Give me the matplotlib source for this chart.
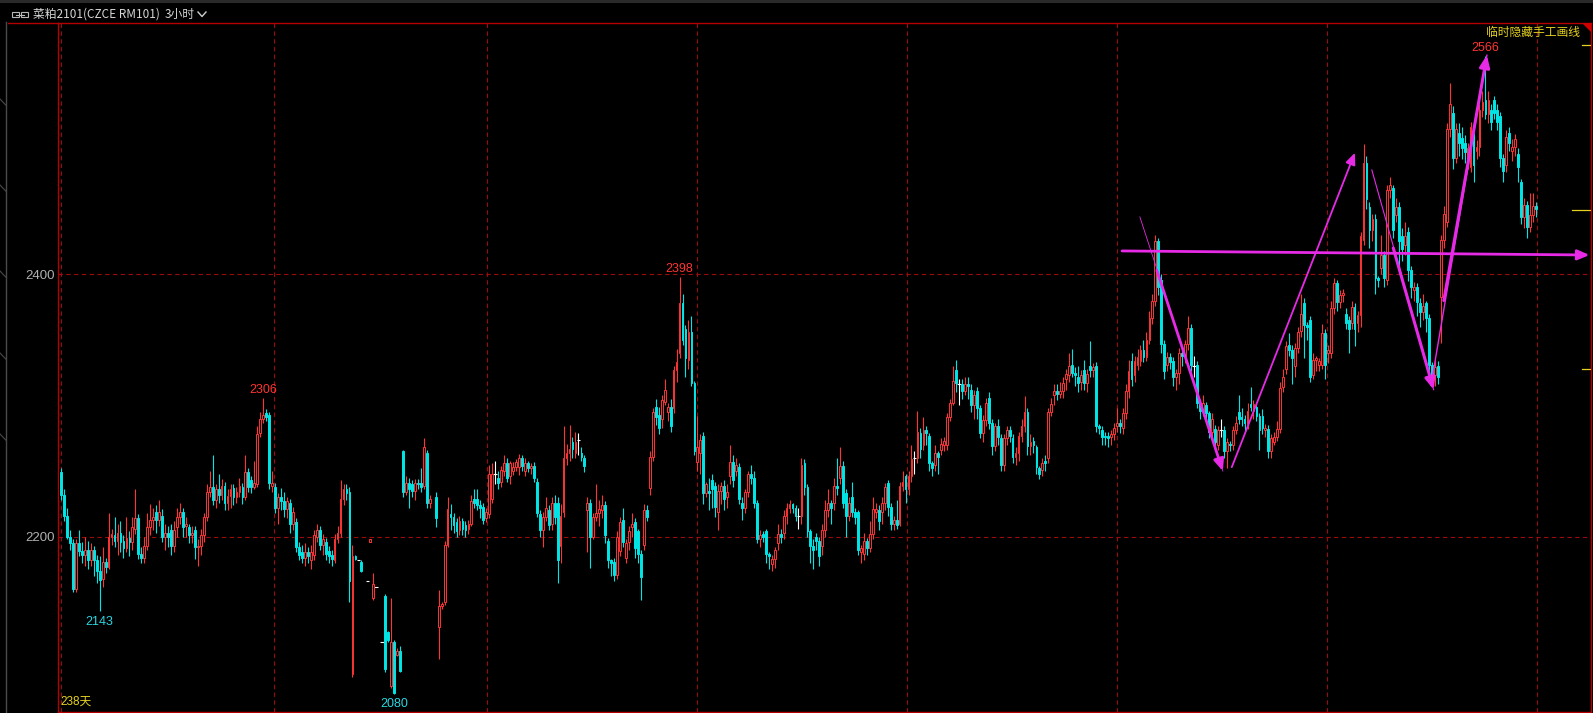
import numpy as np
import matplotlib
matplotlib.use('Agg')
import matplotlib.pyplot as plt
import matplotlib.transforms as mtransforms
from matplotlib.lines import Line2D
from matplotlib.patches import Polygon, Rectangle

plt.rcParams['font.family'] = ['Noto Sans CJK SC', 'DejaVu Sans']

_ = None  # gap in the bar series

title_name = '菜粕2101(CZCE RM101)'
title_period = '3小时'
days_label = '238天'
hide_label = '临时隐藏手工画线'
y_ticks = [2200, 2400]
hi_marks = [2306, 2398, 2566]
lo_marks = [2143, 2080]
right_marks = [2575, 2449, 2328]

opens = [
    2249, 2232, 2216, 2200, 2195, 2160, 2195, 2189, 2186, 2190,
    2182, 2190, 2182, 2174, 2168, 2181, 2177, 2200, 2201, 2197,
    2203, 2197, 2191, 2199, 2196, 2206, 2214, 2187, 2184, 2193,
    2207, 2213, 2219, 2213, 2216, 2200, 2203, 2205, 2193, 2207,
    2215, 2219, 2208, 2207, 2201, 2205, 2192, 2193, 2201, 2215,
    2234, 2238, 2228, 2236, 2232, 2239, 2226, 2231, 2237, 2230,
    2234, 2238, 2230, 2249, 2243, 2238, 2240, 2279, 2290, 2294,
    2293, 2239, 2238, 2222, 2230, 2227, 2221, 2226, 2210, 2211,
    2192, 2188, 2184, 2188, 2182, 2186, 2200, 2205, 2194, 2196,
    2189, 2186, 2182, 2198, 2203, 2229, 2236, 2234, 2095, 2185,
    2182, 2181, _, 2166, 2196, 2153, 2162, _, 2120, 2155,
    2127, 2086, 2120, 2110, 2113, 2265, 2234, 2241, 2240, 2235,
    2241, 2241, 2239, 2264, 2226, _, 2230, 2131, 2147, 2150,
    2194, 2217, 2215, 2211, 2205, 2212, 2209, 2206, 2210, 2229,
    2229, 2224, 2223, 2214, 2217, 2229, 2248, 2245, 2242, 2250,
    2256, 2246, 2250, 2253, 2253, 2260, 2250, 2256, 2252, 2254,
    2242, 2217, 2205, 2215, 2220, 2210, 2226, 2226, 2193, 2219,
    2260, 2264, 2272, 2264, 2274, 2264, 2260, 2220, 2226, 2200,
    2215, 2218, 2220, 2224, 2197, 2182, 2181, 2171, 2189, 2213,
    2184, 2196, 2207, 2211, 2204, 2187, 2194, 2220, 2237, 2261,
    2299, 2293, 2290, 2303, 2295, 2299, 2298, 2327, 2340, 2378,
    2358, 2335, 2356, 2317, 2257, 2264, 2277, 2233, 2235, 2243,
    2239, 2219, 2235, 2239, 2230, 2246, 2257, 2250, 2253, 2226,
    2222, 2234, 2248, 2245, 2226, 2198, 2202, 2204, 2187, 2179,
    2183, 2195, 2202, 2203, 2216, 2222, 2225, 2222, 2216, 2216,
    2256, 2238, 2204, 2193, 2200, 2197, 2193, 2205, 2220, 2226,
    2226, 2239, 2245, 2254, 2233, 2216, 2230, 2219, 2219, 2188,
    2187, 2197, 2191, 2202, 2219, 2220, 2219, 2226, 2241, 2223,
    2210, 2213, 2210, 2239, 2246, 2236, 2246, 2260, 2260, 2279,
    2270, 2281, 2277, 2256, 2255, 2264, 2266, 2270, 2270, 2291,
    2302, 2327, 2316, 2316, 2311, 2316, 2312, 2300, 2311, 2298,
    2279, 2289, 2306, 2287, 2269, 2284, 2275, 2255, 2275, 2281,
    2275, 2261, 2264, 2277, 2284, 2295, 2269, 2273, 2268, 2252,
    2251, 2258, 2260, 2295, 2308, 2311, 2309, 2311, 2320, 2323,
    2331, 2325, 2322, 2318, 2327, 2317, 2330, 2327, 2330, 2284,
    2281, 2277, 2277, 2276, 2278, 2284, 2287, 2283, 2294, 2311,
    2334, 2323, 2331, 2334, 2342, 2337, 2350, 2367, 2380, 2425,
    2396, 2347, 2331, 2337, 2334, 2322, 2325, 2340, 2338, 2347,
    2359, 2330, 2331, 2302, 2296, 2300, 2294, 2280, 2282, 2270,
    2281, 2281, 2265, 2271, 2270, 2281, 2295, 2291, 2290, 2286,
    2301, 2296, 2299, 2292, 2292, 2281, 2282, 2265, 2272, 2276,
    2282, 2314, 2328, 2346, 2342, 2330, 2344, 2357, 2378, 2361,
    2365, 2323, 2335, 2331, 2331, 2355, 2340, 2340, 2374, 2393,
    2379, 2384, 2370, 2365, 2363, 2375, 2363, 2369, 2426, 2485,
    2451, 2434, 2442, 2397, 2405, 2415, 2396, 2464, 2466, 2445,
    2451, 2429, 2422, 2432, 2403, 2388, 2390, 2378, 2371, 2378,
    2367, 2331, 2323, 2330, 2383, 2426, 2440, 2511, 2523, 2489,
    2508, 2504, 2500, 2488, 2482, 2505, 2494, 2497, 2525, 2533,
    2522, 2525, 2533, 2525, 2521, 2489, 2483, 2508, 2494, 2497,
    2492, 2470, 2444, 2453, 2436, 2445, 2452,
]

closes = [
    2232, 2216, 2200, 2195, 2160, 2195, 2189, 2186, 2190, 2182,
    2190, 2182, 2174, 2167, 2181, 2177, 2200, 2202, 2197, 2203,
    2196, 2191, 2199, 2196, 2207, 2214, 2187, 2184, 2193, 2207,
    2213, 2215, 2213, 2219, 2200, 2203, 2200, 2193, 2205, 2215,
    2219, 2207, 2210, 2201, 2203, 2192, 2193, 2201, 2215, 2234,
    2238, 2228, 2236, 2232, 2239, 2226, 2231, 2236, 2230, 2234,
    2239, 2230, 2249, 2238, 2238, 2241, 2278, 2290, 2293, 2291,
    2241, 2241, 2222, 2230, 2227, 2221, 2227, 2210, 2219, 2192,
    2186, 2184, 2188, 2185, 2188, 2201, 2205, 2194, 2198, 2187,
    2185, 2183, 2198, 2203, 2229, 2236, 2233, 2166, 2185, 2183,
    2182, 2174, _, 2166, 2198, 2164, 2162, _, 2120, 2099,
    2121, 2120, 2081, 2113, 2098, 2234, 2241, 2236, 2235, 2241,
    2240, 2238, 2268, 2226, 2229, _, 2214, 2147, 2149, 2194,
    2221, 2215, 2209, 2204, 2212, 2206, 2205, 2210, 2227, 2226,
    2224, 2222, 2213, 2219, 2248, 2248, 2248, 2241, 2251, 2256,
    2245, 2256, 2253, 2257, 2260, 2254, 2256, 2252, 2254, 2245,
    2218, 2205, 2215, 2222, 2209, 2226, 2215, 2182, 2216, 2260,
    2264, 2267, 2267, 2272, 2274, 2261, 2254, 2226, 2200, 2215,
    2218, 2221, 2224, 2201, 2182, 2180, 2171, 2200, 2211, 2196,
    2195, 2204, 2210, 2191, 2187, 2169, 2220, 2215, 2261, 2295,
    2291, 2283, 2304, 2312, 2299, 2284, 2327, 2333, 2378, 2350,
    2336, 2356, 2317, 2265, 2268, 2274, 2233, 2240, 2233, 2236,
    2223, 2235, 2239, 2229, 2234, 2257, 2243, 2255, 2229, 2222,
    2234, 2248, 2245, 2226, 2198, 2201, 2200, 2187, 2185, 2183,
    2190, 2202, 2200, 2216, 2222, 2225, 2222, 2216, 2216, 2255,
    2238, 2204, 2193, 2190, 2197, 2185, 2205, 2220, 2226, 2222,
    2239, 2237, 2254, 2226, 2216, 2226, 2219, 2215, 2190, 2191,
    2197, 2191, 2202, 2221, 2221, 2212, 2226, 2238, 2223, 2210,
    2213, 2209, 2239, 2242, 2236, 2246, 2259, 2260, 2280, 2267,
    2281, 2279, 2256, 2252, 2264, 2261, 2271, 2273, 2291, 2302,
    2319, 2317, 2316, 2311, 2316, 2315, 2300, 2308, 2298, 2279,
    2289, 2302, 2287, 2269, 2284, 2276, 2255, 2275, 2281, 2277,
    2261, 2264, 2277, 2284, 2295, 2269, 2272, 2270, 2253, 2248,
    2256, 2256, 2295, 2301, 2311, 2309, 2311, 2317, 2324, 2330,
    2325, 2323, 2317, 2323, 2317, 2324, 2327, 2329, 2284, 2283,
    2276, 2276, 2275, 2278, 2283, 2287, 2284, 2294, 2311, 2326,
    2320, 2334, 2337, 2342, 2337, 2350, 2367, 2380, 2425, 2390,
    2347, 2326, 2337, 2333, 2322, 2325, 2340, 2338, 2347, 2359,
    2331, 2330, 2302, 2296, 2302, 2294, 2280, 2290, 2272, 2281,
    2281, 2265, 2272, 2270, 2281, 2287, 2290, 2290, 2287, 2296,
    2299, 2301, 2292, 2281, 2283, 2283, 2265, 2275, 2276, 2282,
    2313, 2322, 2345, 2342, 2336, 2344, 2356, 2370, 2361, 2360,
    2322, 2335, 2336, 2334, 2355, 2331, 2342, 2374, 2393, 2379,
    2384, 2386, 2363, 2358, 2375, 2358, 2369, 2429, 2485, 2457,
    2434, 2442, 2397, 2396, 2415, 2397, 2464, 2468, 2434, 2451,
    2425, 2419, 2429, 2403, 2390, 2390, 2379, 2371, 2376, 2367,
    2331, 2323, 2329, 2322, 2426, 2446, 2511, 2530, 2489, 2511,
    2500, 2496, 2493, 2496, 2512, 2483, 2497, 2525, 2531, 2522,
    2533, 2516, 2523, 2516, 2489, 2479, 2505, 2500, 2497, 2503,
    2482, 2444, 2453, 2436, 2445, 2452, 2450,
]

highs = [
    2252, 2236, 2222, 2205, 2198, 2198, 2205, 2196, 2200, 2197,
    2195, 2193, 2186, 2185, 2192, 2184, 2218, 2206, 2215, 2210,
    2212, 2201, 2215, 2204, 2215, 2236, 2217, 2192, 2200, 2218,
    2225, 2222, 2224, 2228, 2221, 2210, 2208, 2210, 2212, 2222,
    2226, 2222, 2215, 2210, 2208, 2208, 2198, 2206, 2218, 2240,
    2250, 2262, 2240, 2248, 2244, 2242, 2236, 2240, 2240, 2238,
    2245, 2241, 2262, 2252, 2246, 2258, 2284, 2295, 2306, 2297,
    2295, 2250, 2241, 2233, 2237, 2234, 2230, 2229, 2223, 2214,
    2196, 2194, 2195, 2192, 2194, 2205, 2210, 2208, 2202, 2199,
    2193, 2190, 2202, 2208, 2243, 2240, 2240, 2238, 2194, 2186,
    2182, 2182, _, 2166, 2198, 2172, 2162, _, 2120, 2156,
    2128, 2153, 2121, 2115, 2117, 2266, 2246, 2245, 2243, 2244,
    2244, 2252, 2275, 2266, 2232, _, 2234, 2159, 2150, 2197,
    2230, 2225, 2218, 2214, 2216, 2214, 2212, 2213, 2232, 2236,
    2236, 2228, 2226, 2222, 2255, 2256, 2258, 2250, 2254, 2262,
    2260, 2258, 2257, 2259, 2263, 2262, 2260, 2258, 2256, 2257,
    2245, 2220, 2219, 2230, 2224, 2230, 2232, 2230, 2225, 2284,
    2271, 2285, 2276, 2280, 2279, 2268, 2262, 2230, 2229, 2218,
    2240, 2228, 2232, 2227, 2199, 2183, 2184, 2204, 2215, 2222,
    2198, 2208, 2218, 2214, 2206, 2190, 2225, 2224, 2265, 2298,
    2305, 2299, 2308, 2320, 2302, 2305, 2330, 2343, 2398, 2385,
    2361, 2365, 2368, 2319, 2292, 2278, 2280, 2242, 2245, 2248,
    2242, 2240, 2242, 2243, 2240, 2270, 2262, 2260, 2256, 2230,
    2236, 2250, 2255, 2250, 2228, 2205, 2204, 2206, 2188, 2186,
    2192, 2210, 2206, 2220, 2226, 2228, 2226, 2224, 2222, 2260,
    2259, 2240, 2206, 2198, 2203, 2200, 2210, 2228, 2236, 2228,
    2245, 2260, 2268, 2258, 2236, 2230, 2242, 2222, 2220, 2194,
    2203, 2199, 2212, 2230, 2226, 2224, 2230, 2241, 2243, 2226,
    2216, 2228, 2242, 2250, 2248, 2250, 2270, 2265, 2296, 2283,
    2291, 2284, 2279, 2258, 2270, 2265, 2275, 2276, 2294, 2305,
    2330, 2335, 2320, 2320, 2322, 2322, 2316, 2312, 2314, 2300,
    2293, 2306, 2310, 2290, 2287, 2290, 2278, 2278, 2284, 2284,
    2278, 2268, 2280, 2290, 2307, 2298, 2278, 2276, 2270, 2254,
    2260, 2262, 2298, 2306, 2316, 2316, 2318, 2322, 2328, 2340,
    2343, 2329, 2330, 2327, 2335, 2328, 2349, 2332, 2333, 2286,
    2284, 2280, 2280, 2281, 2287, 2298, 2290, 2298, 2316, 2335,
    2340, 2338, 2343, 2346, 2350, 2356, 2372, 2385, 2430, 2428,
    2400, 2350, 2341, 2340, 2337, 2328, 2344, 2342, 2350, 2368,
    2362, 2338, 2334, 2305, 2308, 2303, 2296, 2294, 2285, 2284,
    2290, 2284, 2275, 2273, 2284, 2292, 2308, 2298, 2293, 2302,
    2314, 2304, 2302, 2294, 2297, 2286, 2285, 2278, 2280, 2288,
    2318, 2328, 2349, 2355, 2346, 2348, 2360, 2385, 2382, 2364,
    2368, 2340, 2338, 2336, 2362, 2358, 2346, 2380, 2397, 2396,
    2388, 2389, 2374, 2368, 2380, 2378, 2372, 2432, 2499, 2490,
    2455, 2446, 2446, 2399, 2430, 2418, 2468, 2474, 2468, 2458,
    2455, 2435, 2440, 2436, 2406, 2394, 2393, 2382, 2385, 2380,
    2370, 2333, 2335, 2334, 2430, 2452, 2515, 2546, 2528, 2515,
    2515, 2512, 2506, 2500, 2516, 2508, 2502, 2530, 2540, 2566,
    2540, 2530, 2536, 2530, 2524, 2492, 2510, 2512, 2503, 2507,
    2496, 2473, 2458, 2456, 2462, 2462, 2455,
]

lows = [
    2228, 2212, 2198, 2190, 2158, 2158, 2185, 2180, 2178, 2175,
    2178, 2170, 2165, 2143, 2162, 2172, 2175, 2194, 2192, 2186,
    2188, 2184, 2188, 2185, 2190, 2202, 2183, 2180, 2180, 2190,
    2201, 2205, 2203, 2208, 2196, 2190, 2192, 2186, 2188, 2200,
    2210, 2200, 2200, 2195, 2195, 2183, 2178, 2186, 2196, 2212,
    2230, 2224, 2222, 2226, 2228, 2220, 2220, 2222, 2224, 2226,
    2230, 2225, 2228, 2234, 2233, 2236, 2238, 2276, 2287, 2288,
    2236, 2234, 2218, 2210, 2220, 2215, 2214, 2203, 2205, 2188,
    2182, 2180, 2178, 2180, 2175, 2182, 2196, 2190, 2186, 2182,
    2180, 2178, 2180, 2195, 2200, 2224, 2228, 2150, 2093, 2182,
    2182, 2173, _, 2166, 2196, 2152, 2162, _, 2120, 2097,
    2120, 2085, 2080, 2109, 2097, 2230, 2232, 2222, 2230, 2228,
    2236, 2234, 2236, 2222, 2222, _, 2207, 2107, 2145, 2148,
    2192, 2205, 2203, 2200, 2201, 2201, 2200, 2202, 2208, 2222,
    2220, 2214, 2210, 2211, 2214, 2226, 2240, 2236, 2238, 2246,
    2242, 2240, 2247, 2250, 2247, 2250, 2246, 2249, 2248, 2242,
    2215, 2200, 2192, 2212, 2205, 2205, 2210, 2165, 2180, 2215,
    2255, 2258, 2260, 2260, 2262, 2258, 2249, 2188, 2176, 2198,
    2212, 2208, 2214, 2195, 2176, 2170, 2166, 2168, 2185, 2192,
    2180, 2190, 2200, 2184, 2180, 2152, 2190, 2212, 2232, 2258,
    2285, 2278, 2283, 2300, 2288, 2280, 2294, 2318, 2336, 2346,
    2322, 2328, 2315, 2262, 2250, 2248, 2225, 2230, 2220, 2222,
    2215, 2205, 2225, 2220, 2222, 2240, 2238, 2246, 2225, 2213,
    2218, 2230, 2240, 2222, 2195, 2192, 2196, 2180, 2175, 2174,
    2176, 2190, 2195, 2198, 2210, 2218, 2218, 2212, 2206, 2210,
    2232, 2200, 2180, 2175, 2190, 2178, 2186, 2200, 2215, 2210,
    2220, 2232, 2240, 2222, 2200, 2212, 2215, 2210, 2186, 2180,
    2182, 2186, 2188, 2198, 2214, 2205, 2210, 2220, 2216, 2205,
    2205, 2206, 2208, 2235, 2226, 2232, 2242, 2248, 2256, 2260,
    2266, 2270, 2250, 2246, 2250, 2248, 2262, 2265, 2266, 2288,
    2300, 2310, 2300, 2305, 2308, 2305, 2295, 2290, 2290, 2275,
    2272, 2284, 2282, 2262, 2265, 2270, 2250, 2250, 2270, 2272,
    2256, 2255, 2258, 2272, 2280, 2262, 2262, 2264, 2248, 2244,
    2246, 2250, 2256, 2292, 2300, 2304, 2306, 2306, 2312, 2318,
    2322, 2315, 2310, 2312, 2312, 2310, 2322, 2322, 2280, 2278,
    2270, 2270, 2268, 2270, 2274, 2280, 2279, 2278, 2290, 2306,
    2315, 2318, 2327, 2330, 2333, 2334, 2347, 2362, 2376, 2384,
    2340, 2320, 2326, 2328, 2315, 2312, 2316, 2330, 2332, 2342,
    2326, 2322, 2298, 2290, 2292, 2288, 2275, 2276, 2265, 2266,
    2276, 2260, 2252, 2265, 2266, 2278, 2286, 2284, 2280, 2282,
    2296, 2290, 2288, 2266, 2278, 2276, 2260, 2260, 2270, 2273,
    2279, 2310, 2324, 2338, 2316, 2322, 2340, 2352, 2336, 2350,
    2318, 2320, 2326, 2326, 2328, 2320, 2332, 2336, 2370, 2372,
    2374, 2379, 2358, 2340, 2358, 2345, 2356, 2360, 2422, 2450,
    2420, 2425, 2385, 2390, 2400, 2390, 2392, 2458, 2428, 2440,
    2400, 2410, 2415, 2395, 2382, 2380, 2368, 2360, 2365, 2356,
    2325, 2318, 2315, 2316, 2348, 2420, 2436, 2505, 2480, 2485,
    2490, 2488, 2485, 2480, 2478, 2470, 2488, 2490, 2520, 2518,
    2515, 2510, 2518, 2510, 2482, 2470, 2478, 2494, 2486, 2490,
    2470, 2438, 2435, 2428, 2432, 2440, 2444,
]

# hand-drawn magenta lines: (bar0, price0, bar1, price1, width, arrow head)
hand_lines = [
    (362.8, 2443.7, 390.7, 2250.0, 0.6, False),
    (368.5, 2403.0, 390.7, 2250.0, 2.0, True),
    (393.7, 2253.0, 435.1, 2492.6, 1.3, True),
    (356.8, 2417.8, 514.0, 2414.7, 2.0, True),
    (440.8, 2479.5, 461.6, 2312.0, 0.8, False),
    (448.0, 2420.0, 461.6, 2312.0, 2.2, True),
    (460.7, 2315.5, 479.5, 2567.0, 1.0, False),
    (465.0, 2380.0, 479.5, 2567.0, 2.2, True),
]
vgrid = [0.1, 71.7, 143.3, 213.9, 284.5, 355.2, 425.8, 496.4]

RED = '#ff3434'
CYAN = '#00e6e6'
FRAME = '#b40000'
GRID = '#9a0c0c'
MAG = '#e62ae6'
YEL = '#e6d21e'
W, H = 1593, 713

o = np.array(opens, dtype=float)
c = np.array(closes, dtype=float)
h = np.array(highs, dtype=float)
l = np.array(lows, dtype=float)
x = np.arange(len(o))

fig = plt.figure(figsize=(W / 100, H / 100), dpi=100, facecolor='black')
ax = fig.add_axes([58.3 / W, 1.3 / H, (1591 - 58.3) / W, (711.7 - 23.3) / H])
ax.set_facecolor('black')
ax.set_xlim(-0.91, 514.5)
ax.set_ylim(2066.6, 2591.3)

for y in y_ticks:
    ax.axhline(y, color=GRID, lw=0.8, ls=(0, (4, 3)), zorder=0)
for g in vgrid:
    ax.axvline(g, color=GRID, lw=0.8, ls=(0, (4, 3)), zorder=0)

up = c > o
dn = c < o
fl = c == o
bw = 0.6

# wicks
ax.vlines(x[up], c[up], h[up], color=RED, lw=0.8, zorder=2)
ax.vlines(x[up], l[up], o[up], color=RED, lw=0.8, zorder=2)
ax.vlines(x[dn], l[dn], h[dn], color=CYAN, lw=0.8, zorder=2)
ax.vlines(x[fl], l[fl], h[fl], color='white', lw=0.8, zorder=2)
ax.hlines(o[fl], x[fl] - 0.6, x[fl] + 0.6, color='white', lw=0.8, zorder=2)

# bodies
ax.bar(x[up], c[up] - o[up], bottom=o[up], width=bw, facecolor='black',
       edgecolor=RED, linewidth=0.7, zorder=3)
ax.bar(x[dn], o[dn] - c[dn], bottom=c[dn], width=bw, facecolor=CYAN,
       edgecolor=CYAN, linewidth=0.7, zorder=3)

# hand-drawn lines
for x0, y0, x1, y1, lw, head in hand_lines:
    if head:
        ax.annotate('', xy=(x1, y1), xytext=(x0, y0), annotation_clip=False,
                    arrowprops=dict(arrowstyle='-|>,head_length=0.7,head_width=0.3',
                                    color=MAG, lw=lw, shrinkA=0, shrinkB=0,
                                    mutation_scale=10), zorder=5)
    else:
        ax.plot([x0, x1], [y0, y1], color=MAG, lw=lw, zorder=5)

num_font = ['Liberation Sans', 'DejaVu Sans']
for v in hi_marks:
    i = int(np.where(h == v)[0][0])
    ax.annotate(str(v), xy=(i, v), xytext=(0, 1.5), textcoords='offset points',
                ha='center', va='bottom', color=RED, fontsize=9, family=num_font, zorder=6)
for v in lo_marks:
    i = int(np.where(l == v)[0][0])
    ax.annotate(str(v), xy=(i, v), xytext=(0, -3), textcoords='offset points',
                ha='center', va='top', color='#2ad6e2', fontsize=9, family=num_font, zorder=6)

# right-side price markers
bt = mtransforms.blended_transform_factory(ax.transAxes, ax.transData)
for k, v in enumerate(right_marks):
    x_start = 0.9876 if k == 1 else 0.9941
    ax.plot([x_start, 0.9995], [v, v], color=YEL, lw=0.9, transform=bt, zorder=6)

ax.text(0.0015, 0.014, days_label, transform=ax.transAxes, color=YEL, fontsize=8.5,
        ha='left', va='center', family=['Liberation Sans', 'Noto Sans CJK SC'])
ax.text(0.9928, 0.9873, hide_label, transform=ax.transAxes, color=YEL, fontsize=8.5,
        ha='right', va='center')

ax.set_xticks([])
ax.set_yticks(y_ticks)
ax.set_yticklabels([str(v) for v in y_ticks], color='#b0b0b0', fontsize=9.5,
                   family=num_font)
ax.tick_params(axis='y', length=0, pad=2.5)
for s in ax.spines.values():
    s.set_color(FRAME)
    s.set_linewidth(1.0)

# window chrome
def fx(px):
    return px / W


def fy(py):
    return 1 - py / H


fig.add_artist(Rectangle((0, fy(3.3)), 1, 3.3 / H, transform=fig.transFigure,
                         facecolor='#2a2a2a', edgecolor='none'))
fig.add_artist(Line2D([fx(8), fx(58.3)], [fy(23.3), fy(23.3)], color=FRAME, lw=1.0))
fig.add_artist(Line2D([fx(5.7), fx(5.7)], [0, fy(22)], color='#4a4a4a', lw=1.0))
for yy in [102, 188, 274, 356, 437]:
    fig.add_artist(Line2D([fx(0), fx(5.7)], [fy(yy - 3), fy(yy + 3)], color='#4a4a4a', lw=0.8))
fig.add_artist(Polygon([[fx(1582), fy(23.3)], [fx(1591), fy(23.3)], [fx(1591), fy(32)]],
                       closed=True, transform=fig.transFigure, facecolor='#d00000',
                       edgecolor='none'))
# link icon and chevron
for xa, xb in [(12, 19), (21, 28)]:
    fig.add_artist(Rectangle((fx(xa), fy(17)), (xb - xa) / W, 5 / H, transform=fig.transFigure,
                             facecolor='none', edgecolor='#b8b8b8', lw=0.8))
fig.add_artist(Line2D([fx(16), fx(24)], [fy(14.5), fy(14.5)], color='#b8b8b8', lw=0.8))
fig.add_artist(Line2D([fx(198), fx(202), fx(206)], [fy(12), fy(16.5), fy(12)],
                      color='#d0d0d0', lw=1.0))
fig.text(fx(33), fy(14), title_name, color='#d6d6d6', fontsize=8.5, ha='left', va='center')
fig.text(fx(165), fy(14), title_period, color='#d6d6d6', fontsize=8.5, ha='left', va='center')

fig.savefig('out.png', dpi=100, facecolor='black')
